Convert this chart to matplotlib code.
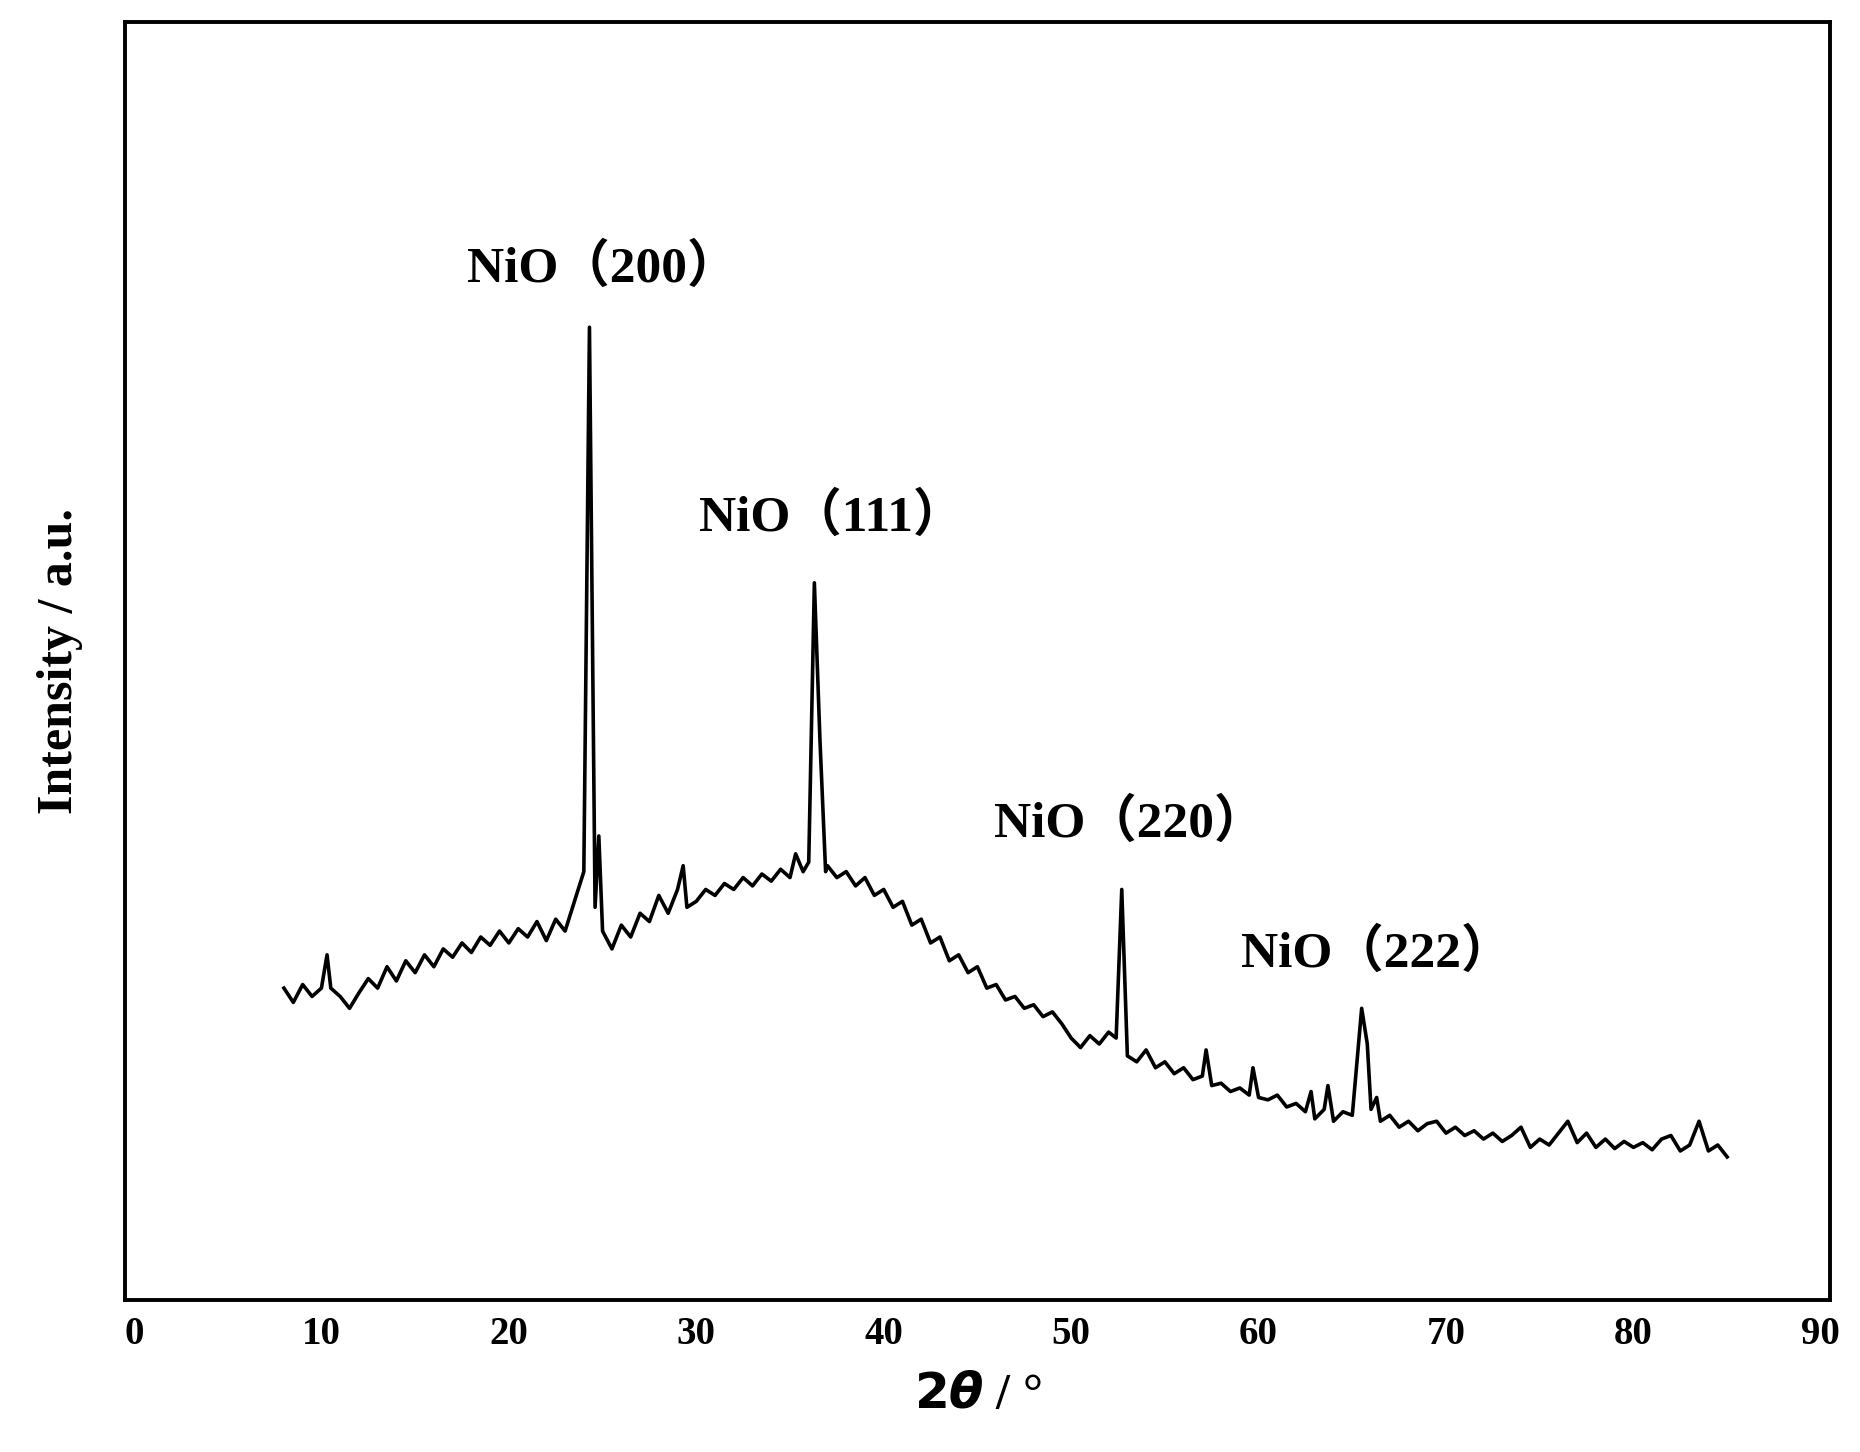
import matplotlib.pyplot as plt

# XRD pattern (2theta in degrees, intensity in arbitrary units)
two_theta = [8.0, 8.5, 9.0, 9.5, 10.0, 10.3, 10.5, 11.0, 11.5, 12.0, 12.5, 13.0, 13.5, 14.0, 14.5,
             15.0, 15.5, 16.0, 16.5, 17.0, 17.5, 18.0, 18.5, 19.0, 19.5, 20.0, 20.5, 21.0, 21.5,
             22.0, 22.5, 23.0, 23.5, 24.0, 24.3, 24.6, 24.8, 25.0, 25.5, 26.0, 26.5, 27.0, 27.5,
             28.0, 28.5, 29.0, 29.3, 29.5, 30.0, 30.5, 31.0, 31.5, 32.0, 32.5, 33.0, 33.5, 34.0,
             34.5, 35.0, 35.3, 35.7, 36.0, 36.3, 36.6, 36.9, 37.0, 37.5, 38.0, 38.5, 39.0, 39.5,
             40.0, 40.5, 41.0, 41.5, 42.0, 42.5, 43.0, 43.5, 44.0, 44.5, 45.0, 45.5, 46.0, 46.5,
             47.0, 47.5, 48.0, 48.5, 49.0, 49.5, 50.0, 50.5, 51.0, 51.5, 52.0, 52.4, 52.7, 53.0,
             53.5, 54.0, 54.5, 55.0, 55.5, 56.0, 56.5, 57.0, 57.2, 57.5, 58.0, 58.5, 59.0, 59.5,
             59.7, 60.0, 60.5, 61.0, 61.5, 62.0, 62.5, 62.8, 63.0, 63.5, 63.7, 64.0, 64.5, 65.0,
             65.5, 65.8, 66.0, 66.3, 66.5, 67.0, 67.5, 68.0, 68.5, 69.0, 69.5, 70.0, 70.5, 71.0,
             71.5, 72.0, 72.5, 73.0, 73.5, 74.0, 74.5, 75.0, 75.5, 76.0, 76.5, 77.0, 77.5, 78.0,
             78.5, 79.0, 79.5, 80.0, 80.5, 81.0, 81.5, 82.0, 82.5, 83.0, 83.5, 84.0, 84.5, 85.0]
intensity = [262, 250, 265, 255, 262, 290, 262, 255, 245, 258, 270, 262, 280, 268, 285,
             275, 290, 280, 295, 288, 300, 292, 305, 298, 310, 300, 312, 305, 318,
             302, 320, 310, 335, 360, 818, 330, 390, 310, 295, 315, 305, 325, 318,
             340, 325, 345, 365, 330, 335, 345, 340, 350, 345, 355, 348, 358, 352,
             362, 355, 375, 360, 368, 603, 470, 360, 365, 355, 360, 348, 355, 340,
             345, 330, 335, 315, 320, 300, 305, 285, 290, 275, 280, 262, 265, 252,
             255, 245, 248, 238, 242, 232, 220, 212, 222, 215, 225, 220, 345, 205,
             200, 210, 195, 200, 190, 195, 185, 188, 210, 180, 182, 175, 178, 172,
             195, 170, 168, 172, 162, 165, 158, 175, 152, 160, 180, 150, 158, 155,
             245, 215, 160, 170, 150, 155, 145, 150, 142, 148, 150, 140, 145, 138,
             142, 135, 140, 133, 138, 145, 128, 135, 130, 140, 150, 132, 140, 128,
             135, 127, 133, 128, 132, 126, 135, 138, 125, 130, 150, 125, 130, 120]

peak_labels = ["NiO（200）", "NiO（111）", "NiO（220）", "NiO（222）"]
peak_x = [25.0, 37.2, 53.1, 66.3]
peak_y = [868, 658, 401, 291]

serif = ["Liberation Serif", "Noto Sans CJK SC"]

fig = plt.figure(figsize=(18.6, 14.52), dpi=100)
ax = fig.add_axes([0.067, 0.105, 0.917, 0.88])
ax.plot(two_theta, intensity, color="black", lw=2.6)

for lab, px, py in zip(peak_labels, peak_x, peak_y):
    ax.text(px, py, lab, ha="center", va="center", fontsize=37,
            fontweight="bold", family=serif)

ax.set_xlim(-0.5, 90.5)
ax.set_ylim(0, 1075)
ax.set_xticks(range(0, 91, 10))
ax.set_yticks([])
ax.tick_params(axis="x", length=0, pad=12)
for t in ax.get_xticklabels():
    t.set_fontfamily(serif)
    t.set_fontweight("bold")
    t.set_fontsize(28)
for s in ax.spines.values():
    s.set_linewidth(2.8)

ax.set_xlabel(r"$\mathbf{2}\boldsymbol{\theta}$ / °", fontsize=36, fontweight="bold",
              family=serif, labelpad=14)
ax.set_ylabel("Intensity / a.u.", fontsize=36, fontweight="bold", family=serif, labelpad=30)

fig.savefig("out.png", dpi=100)
